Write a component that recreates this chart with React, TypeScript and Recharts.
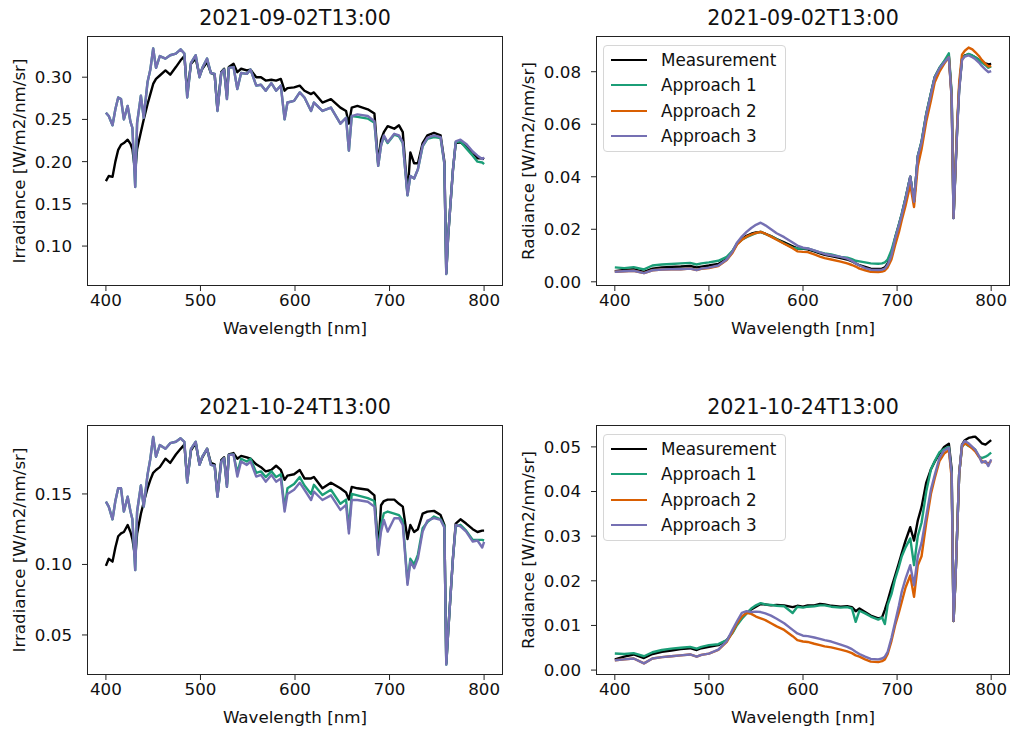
import { Legend, Line, LineChart, XAxis, YAxis } from "recharts";

const FONT = '"DejaVu Sans", sans-serif';
const X_TICKS = [400, 500, 600, 700, 800];

// irradiance panels (left column)
const IRR_WL = [
  400, 403, 407, 410, 413, 416, 419, 423, 426, 428,
  431, 433, 437, 440, 444, 447, 450, 453, 457, 463,
  468, 474, 479, 483, 486, 490, 495, 499, 502, 507,
  511, 515, 518, 522, 525, 528, 530, 535, 539, 543,
  549, 553, 559, 564, 569, 575, 580, 585, 589, 592,
  599, 605, 610, 617, 620, 629, 638, 648, 654, 657,
  660, 666, 677, 684, 688, 691, 694, 698, 705, 710,
  714, 719, 722, 726, 730, 735, 740, 747, 754, 758,
  760, 762, 767, 770, 775, 781, 788, 793, 798, 800,
];

const IRR1_M = [
  0.177, 0.183, 0.182, 0.2, 0.214, 0.22, 0.222, 0.226, 0.221, 0.215,
  0.188, 0.215, 0.235, 0.25, 0.268, 0.28, 0.292, 0.298, 0.302, 0.308,
  0.303, 0.312, 0.32, 0.325, 0.282, 0.316, 0.322, 0.302, 0.31, 0.318,
  0.305, 0.303, 0.262, 0.306, 0.31, 0.278, 0.312, 0.316, 0.306, 0.31,
  0.308, 0.309, 0.3, 0.3, 0.296, 0.297, 0.296, 0.298, 0.284, 0.287,
  0.288, 0.29, 0.284, 0.28, 0.282, 0.27, 0.274, 0.264, 0.26, 0.245,
  0.264, 0.266, 0.262, 0.257, 0.198, 0.226, 0.235, 0.242, 0.239, 0.243,
  0.235, 0.162, 0.211, 0.198, 0.198, 0.222, 0.231, 0.234, 0.231, 0.2,
  0.068, 0.112, 0.19, 0.222, 0.223, 0.218, 0.211, 0.204, 0.204, 0.203,
];
const IRR1_A1 = [
  0.258, 0.254, 0.243, 0.262, 0.276, 0.274, 0.25, 0.266, 0.247, 0.24,
  0.17, 0.246, 0.278, 0.252, 0.294, 0.309, 0.334, 0.311, 0.325, 0.322,
  0.326, 0.328, 0.333, 0.328, 0.276, 0.317, 0.326, 0.3, 0.311, 0.322,
  0.305, 0.304, 0.26, 0.305, 0.309, 0.274, 0.311, 0.312, 0.286, 0.305,
  0.304, 0.309, 0.29, 0.291, 0.284, 0.293, 0.284, 0.29, 0.25, 0.27,
  0.272, 0.282, 0.276, 0.26, 0.27, 0.26, 0.264, 0.245, 0.252, 0.213,
  0.254, 0.253, 0.251, 0.246, 0.195, 0.219, 0.23, 0.222, 0.232, 0.23,
  0.222, 0.16, 0.183, 0.18, 0.191, 0.218, 0.227, 0.229, 0.228, 0.197,
  0.067, 0.112, 0.189, 0.223, 0.224, 0.216, 0.207, 0.2, 0.199, 0.197,
];
const IRR1_A3 = [
  0.258, 0.254, 0.243, 0.262, 0.276, 0.274, 0.25, 0.266, 0.247, 0.24,
  0.17, 0.246, 0.278, 0.252, 0.294, 0.309, 0.334, 0.311, 0.325, 0.322,
  0.326, 0.328, 0.333, 0.328, 0.276, 0.317, 0.326, 0.3, 0.311, 0.322,
  0.305, 0.304, 0.26, 0.305, 0.309, 0.274, 0.311, 0.312, 0.286, 0.305,
  0.304, 0.309, 0.29, 0.291, 0.284, 0.293, 0.284, 0.29, 0.25, 0.27,
  0.272, 0.282, 0.276, 0.26, 0.27, 0.26, 0.264, 0.245, 0.252, 0.213,
  0.254, 0.256, 0.254, 0.248, 0.195, 0.219, 0.231, 0.223, 0.233, 0.231,
  0.223, 0.16, 0.183, 0.18, 0.191, 0.219, 0.228, 0.231, 0.229, 0.198,
  0.067, 0.112, 0.189, 0.224, 0.226, 0.221, 0.212, 0.207, 0.203, 0.205,
];

const IRR2_M = [
  0.099, 0.104, 0.102, 0.112, 0.12, 0.122, 0.123, 0.128, 0.123, 0.118,
  0.105, 0.122, 0.136, 0.144, 0.154, 0.16, 0.165, 0.167, 0.169, 0.175,
  0.172, 0.178, 0.182, 0.185, 0.16, 0.181, 0.186, 0.171, 0.176, 0.182,
  0.172, 0.171, 0.149, 0.174, 0.176, 0.157, 0.178, 0.179, 0.175, 0.177,
  0.176, 0.175, 0.171, 0.169, 0.166, 0.167, 0.17, 0.167, 0.16, 0.163,
  0.164, 0.167, 0.161, 0.161, 0.162, 0.154, 0.158, 0.154, 0.151, 0.146,
  0.155, 0.154, 0.153, 0.149, 0.11, 0.142, 0.145, 0.146, 0.146, 0.143,
  0.141, 0.118, 0.128, 0.123, 0.125, 0.136, 0.1375, 0.138, 0.135, 0.128,
  0.03, 0.052, 0.104, 0.129, 0.132, 0.129, 0.125, 0.123, 0.124, 0.124,
];
const IRR2_A1 = [
  0.1445, 0.141, 0.132, 0.145, 0.154, 0.154, 0.1375, 0.148, 0.1375, 0.132,
  0.096, 0.1375, 0.156, 0.141, 0.1635, 0.175, 0.1905, 0.1764, 0.1847, 0.182,
  0.186, 0.187, 0.1895, 0.187, 0.158, 0.182, 0.187, 0.1706, 0.1764, 0.182,
  0.1706, 0.17, 0.148, 0.173, 0.1753, 0.155, 0.1777, 0.178, 0.165, 0.175,
  0.173, 0.175, 0.165, 0.166, 0.162, 0.166, 0.162, 0.164, 0.14, 0.154,
  0.157, 0.162, 0.156, 0.15, 0.1565, 0.1493, 0.153, 0.143, 0.146, 0.125,
  0.15, 0.149, 0.147, 0.145, 0.108, 0.128, 0.1363, 0.1375, 0.136, 0.135,
  0.131, 0.087, 0.104, 0.1, 0.107, 0.1257, 0.13, 0.134, 0.132, 0.127,
  0.029, 0.052, 0.104, 0.127, 0.1281, 0.124, 0.1174, 0.1174, 0.1174, 0.117,
];
const IRR2_A3 = [
  0.1445, 0.141, 0.132, 0.145, 0.154, 0.154, 0.1375, 0.148, 0.1375, 0.132,
  0.096, 0.1375, 0.156, 0.141, 0.1635, 0.175, 0.1905, 0.1764, 0.1847, 0.182,
  0.186, 0.187, 0.1895, 0.187, 0.158, 0.182, 0.187, 0.1706, 0.1764, 0.182,
  0.1706, 0.17, 0.148, 0.173, 0.1753, 0.155, 0.1777, 0.178, 0.1623, 0.173,
  0.1706, 0.173, 0.1623, 0.1635, 0.1587, 0.1635, 0.1587, 0.161, 0.1375, 0.15,
  0.153, 0.158, 0.153, 0.1457, 0.1516, 0.1457, 0.149, 0.1387, 0.1422, 0.122,
  0.1457, 0.1457, 0.1445, 0.141, 0.1068, 0.1233, 0.1316, 0.1233, 0.1328, 0.1328,
  0.128, 0.0855, 0.102, 0.0973, 0.1044, 0.1233, 0.131, 0.1328, 0.1316, 0.126,
  0.029, 0.052, 0.104, 0.128, 0.127, 0.1233, 0.1162, 0.117, 0.112, 0.116,
];

// radiance panels (right column)
const RAD_WL = [
  400, 410, 420, 431, 440, 450, 460, 470, 480, 487,
  492, 500, 510, 519, 525, 530, 535, 540, 545, 550,
  555, 560, 566, 572, 580, 589, 594, 600, 605, 612,
  618, 623, 630, 640, 647, 652, 656, 660, 666, 672,
  680, 684, 687, 690, 694, 698, 702, 705, 709, 714,
  718, 722, 726, 731, 736, 740, 745, 750, 755, 758,
  760, 762, 764, 766, 769, 772, 776, 780, 783, 787,
  790, 794, 797, 800,
];

const RAD1_M = [
  0.004, 0.0045, 0.0048, 0.0038, 0.005, 0.0055, 0.0057, 0.0058, 0.006, 0.0055,
  0.0058, 0.0062, 0.0068, 0.0088, 0.0115, 0.0145, 0.0162, 0.0175, 0.0183, 0.0188,
  0.019, 0.0183, 0.0174, 0.0163, 0.015, 0.0135, 0.0127, 0.0126, 0.0124, 0.0116,
  0.0108, 0.0103, 0.0098, 0.009, 0.0085, 0.0078, 0.007, 0.0063, 0.0057, 0.005,
  0.0049, 0.005, 0.0055, 0.007, 0.0105, 0.0168, 0.0218, 0.0258, 0.0318, 0.04,
  0.0305, 0.0478, 0.0532, 0.0638, 0.0718, 0.078, 0.0813, 0.0838, 0.086, 0.071,
  0.0243, 0.0425, 0.0595, 0.0735, 0.0848, 0.0862, 0.0866, 0.086, 0.0855, 0.0845,
  0.0838, 0.0832, 0.0828, 0.083,
];
const RAD1_A1 = [
  0.0055, 0.0052, 0.0056, 0.0047, 0.0062, 0.0066, 0.0068, 0.007, 0.0072, 0.0066,
  0.007, 0.0074, 0.008, 0.0095, 0.0118, 0.0146, 0.016, 0.017, 0.0178, 0.0185,
  0.019, 0.0182, 0.0173, 0.0162, 0.0146, 0.013, 0.0127, 0.0128, 0.0127, 0.0119,
  0.0112, 0.0108, 0.0104, 0.0095, 0.0092, 0.0086, 0.008, 0.0078, 0.0074, 0.007,
  0.0069, 0.007, 0.0074, 0.0085, 0.012, 0.017, 0.022, 0.026, 0.032, 0.04,
  0.0305, 0.048, 0.0535, 0.064, 0.072, 0.078, 0.0815, 0.084, 0.087, 0.072,
  0.0244, 0.0428, 0.06, 0.074, 0.085, 0.086, 0.0868, 0.0862, 0.0855, 0.0845,
  0.0835, 0.0825, 0.0815, 0.082,
];
const RAD1_A2 = [
  0.0038, 0.004, 0.0042, 0.0033, 0.0044, 0.0047, 0.0048, 0.0048, 0.005, 0.0045,
  0.0049, 0.0052, 0.006, 0.0083, 0.011, 0.0142, 0.016, 0.0172, 0.018, 0.0186,
  0.019, 0.0183, 0.0172, 0.016, 0.0145, 0.0128, 0.0116, 0.0114, 0.0113, 0.0104,
  0.0096, 0.009, 0.0085, 0.0077, 0.007, 0.0064, 0.0058, 0.005, 0.0044, 0.0038,
  0.0037, 0.0039, 0.0043, 0.0055, 0.0085, 0.014, 0.019, 0.0235, 0.029, 0.037,
  0.0285, 0.044, 0.0505, 0.061, 0.069, 0.076, 0.08, 0.083, 0.0855, 0.07,
  0.0245, 0.043, 0.061, 0.076, 0.0865, 0.088, 0.0892, 0.0885, 0.0875, 0.086,
  0.0845, 0.083, 0.082, 0.0822,
];
const RAD1_A3 = [
  0.0038, 0.004, 0.0042, 0.0033, 0.0044, 0.0047, 0.0048, 0.0048, 0.005, 0.0045,
  0.005, 0.0054, 0.0062, 0.0085, 0.0115, 0.015, 0.0172, 0.019, 0.0205, 0.0217,
  0.0225, 0.0215, 0.02, 0.0185, 0.017, 0.015, 0.0138, 0.013, 0.0127, 0.012,
  0.0112, 0.0106, 0.0101, 0.0095, 0.0088, 0.008, 0.007, 0.0062, 0.0052, 0.0046,
  0.0045, 0.0046, 0.005, 0.0065, 0.01, 0.0165, 0.0215, 0.0255, 0.0315, 0.04,
  0.0305, 0.0478, 0.053, 0.0635, 0.0715, 0.0778, 0.0812, 0.0835, 0.0855, 0.07,
  0.0242, 0.042, 0.059, 0.073, 0.0845, 0.0858, 0.0862, 0.0855, 0.0848, 0.0835,
  0.0822, 0.0808, 0.0798, 0.0802,
];

const RAD2_M = [
  0.0024, 0.003, 0.0035, 0.0027, 0.0036, 0.0041, 0.0044, 0.0047, 0.0049, 0.0045,
  0.0049, 0.0052, 0.0056, 0.0067, 0.0085, 0.0105, 0.0117, 0.0127, 0.0136, 0.0142,
  0.0148, 0.0147, 0.0145, 0.0146, 0.0145, 0.0141, 0.0144, 0.0142, 0.0145, 0.0145,
  0.0148, 0.0147, 0.0144, 0.0142, 0.0143, 0.0141, 0.0132, 0.0138, 0.013, 0.0122,
  0.0116, 0.0118, 0.0135, 0.0155, 0.0185, 0.0212, 0.024, 0.0262, 0.029, 0.032,
  0.029, 0.0335, 0.0365, 0.042, 0.045, 0.0467, 0.0485, 0.05, 0.0507, 0.045,
  0.011, 0.02, 0.032, 0.044, 0.0505, 0.0515, 0.052, 0.0522, 0.0523, 0.0515,
  0.0508, 0.0505, 0.051, 0.0515,
];
const RAD2_A1 = [
  0.0037, 0.0036, 0.0038, 0.0031, 0.004, 0.0045, 0.0048, 0.005, 0.0052, 0.0048,
  0.0052, 0.0056, 0.0058, 0.0067, 0.0083, 0.0101, 0.0115, 0.0127, 0.0138, 0.0145,
  0.015, 0.0147, 0.0146, 0.0144, 0.0143, 0.0128, 0.0142, 0.014, 0.0142, 0.0143,
  0.0145, 0.0145, 0.0142, 0.014, 0.0141, 0.0138, 0.0108, 0.0133, 0.0127, 0.012,
  0.0113, 0.0118, 0.0103, 0.0146, 0.017, 0.0205, 0.0232, 0.0255, 0.0275, 0.0295,
  0.0235, 0.03, 0.033, 0.04, 0.045, 0.0468, 0.0488, 0.0495, 0.05, 0.044,
  0.011, 0.02, 0.032, 0.044, 0.05, 0.0508, 0.0502, 0.0498, 0.0494, 0.0478,
  0.0475, 0.0478, 0.0482, 0.0487,
];
const RAD2_A2 = [
  0.0022, 0.0024, 0.0026, 0.0015, 0.0026, 0.0029, 0.0031, 0.0033, 0.0035, 0.003,
  0.0034, 0.0037, 0.0045, 0.0063, 0.0085, 0.0105, 0.012, 0.0128, 0.0126, 0.012,
  0.0116, 0.0112, 0.0105, 0.0098, 0.009, 0.0076, 0.0067, 0.0064, 0.0063, 0.0059,
  0.0056, 0.0053, 0.0051, 0.0046, 0.0042, 0.0038, 0.0033, 0.003, 0.0024, 0.0019,
  0.0018, 0.002, 0.0024, 0.0036, 0.0065, 0.0101, 0.013, 0.0153, 0.0185, 0.0212,
  0.0164, 0.0235, 0.0255, 0.033, 0.0395, 0.043, 0.0468, 0.0485, 0.0493, 0.043,
  0.011, 0.02, 0.032, 0.044, 0.05, 0.0508, 0.0503, 0.0496, 0.049, 0.0478,
  0.0468, 0.0465, 0.0463, 0.0468,
];
const RAD2_A3 = [
  0.0022, 0.0024, 0.0026, 0.0015, 0.0026, 0.0029, 0.0031, 0.0033, 0.0035, 0.003,
  0.0034, 0.0037, 0.0046, 0.0065, 0.009, 0.011, 0.0128, 0.0132, 0.013, 0.0131,
  0.013, 0.0127, 0.0122, 0.0115, 0.0105, 0.009, 0.0082, 0.0077, 0.0076, 0.0073,
  0.007, 0.0067, 0.0064, 0.0057, 0.0052, 0.0047, 0.0041, 0.0036, 0.003, 0.0025,
  0.0024, 0.0026, 0.003, 0.0041, 0.0072, 0.0108, 0.0145, 0.0176, 0.0205, 0.0235,
  0.019, 0.0255, 0.0285, 0.0345, 0.0405, 0.0437, 0.0475, 0.0492, 0.0498, 0.044,
  0.011, 0.02, 0.032, 0.044, 0.0505, 0.0513, 0.0508, 0.05, 0.0494, 0.048,
  0.0465, 0.0468, 0.0457, 0.0472,
];

const SERIES = [
  { key: "m", name: "Measurement", color: "#000000" },
  { key: "a1", name: "Approach 1", color: "#1b9e77" },
  { key: "a2", name: "Approach 2", color: "#d95f02" },
  { key: "a3", name: "Approach 3", color: "#7570b3" },
];

type Row = { wl: number; m: number; a1: number; a2?: number; a3: number };

function toRows(wl: number[], m: number[], a1: number[], a2: number[] | null, a3: number[]): Row[] {
  return wl.map((w, i) => ({ wl: w, m: m[i], a1: a1[i], a2: a2 ? a2[i] : undefined, a3: a3[i] }));
}

const renderLegend = (props: any) => {
  const order = SERIES.map((s) => s.name);
  const items = [...(props.payload || [])].sort(
    (a: any, b: any) => order.indexOf(a.value) - order.indexOf(b.value)
  );
  return (
    <div
      style={{
        boxSizing: "border-box",
        width: 183,
        height: 107,
        border: "1px solid #d6d6d6",
        borderRadius: 4,
        background: "rgba(255,255,255,0.85)",
        position: "relative",
        fontFamily: FONT,
      }}
    >
      {items.map((p: any, i: number) => (
        <div
          key={p.value}
          style={{ position: "absolute", left: 7, top: 14 + i * 25.3 - 11, height: 22, display: "flex", alignItems: "center" }}
        >
          <span style={{ display: "inline-block", width: 36, borderTop: `2.4px solid ${p.color}` }} />
          <span style={{ marginLeft: 14, fontSize: 16.8, color: "#111", whiteSpace: "nowrap" }}>{p.value}</span>
        </div>
      ))}
    </div>
  );
};

function Panel({
  pl, pt, pw, ph, title, yLabel, yDomain, yTicks, rows, series, legend,
}: {
  pl: number; pt: number; pw: number; ph: number; title: string; yLabel: string;
  yDomain: [number, number]; yTicks: number[]; rows: Row[]; series: typeof SERIES; legend?: boolean;
}) {
  const W = pw + 87 + 2;
  const H = ph + 36 + 30;
  const tickStyle = { fill: "#111", fontSize: 16.7, fontFamily: FONT };
  return (
    <>
      <div style={{ position: "absolute", left: pl, top: pt - 30, width: pw, textAlign: "center", fontSize: 20.6, lineHeight: "24px", color: "#111" }}>
        {title}
      </div>
      <div style={{ position: "absolute", left: pl - 87, top: pt - 36 }}>
        <LineChart width={W} height={H} data={rows} margin={{ top: 36, right: 2, bottom: 0, left: 0 }}>
          <XAxis
            dataKey="wl" type="number" domain={[380, 820]} ticks={X_TICKS} allowDataOverflow
            height={30} tickSize={5} tickMargin={3} axisLine={false} interval={0}
            tick={tickStyle} tickLine={{ stroke: "#222" }}
          />
          <YAxis
            type="number" domain={yDomain} ticks={yTicks} allowDataOverflow
            width={87} tickSize={5} tickMargin={10} axisLine={false} interval={0}
            tick={tickStyle} tickLine={{ stroke: "#222" }} tickFormatter={(v: number) => v.toFixed(2)}
          />
          {legend && (
            <Legend
              layout="vertical" align="center" verticalAlign="middle"
              wrapperStyle={{ left: 94, top: 45, width: 183, height: 107 }}
              content={renderLegend}
            />
          )}
          {series.map((s) => (
            <Line
              key={s.key} dataKey={s.key} name={s.name} stroke={s.color} strokeWidth={2.4}
              type="linear" dot={false} activeDot={false} isAnimationActive={false} strokeLinejoin="round"
            />
          ))}
        </LineChart>
      </div>
      <div style={{ position: "absolute", left: pl, top: pt, width: pw, height: ph, border: "1px solid #222", boxSizing: "border-box", pointerEvents: "none" }} />
      <div style={{ position: "absolute", left: pl, top: pt + ph + 32, width: pw, textAlign: "center", fontSize: 16.7, lineHeight: "20px", color: "#111" }}>
        Wavelength [nm]
      </div>
      <div
        style={{
          position: "absolute", left: pl - 68, top: pt + ph / 2, fontSize: 16.7, lineHeight: "20px", color: "#111",
          whiteSpace: "nowrap", transform: "translate(-50%, -50%) rotate(-90deg)",
        }}
      >
        {yLabel}
      </div>
    </>
  );
}

const IRR_SERIES = SERIES.filter((s) => s.key !== "a2");

export default function App() {
  const p1 = toRows(IRR_WL, IRR1_M, IRR1_A1, null, IRR1_A3);
  const p2 = toRows(RAD_WL, RAD1_M, RAD1_A1, RAD1_A2, RAD1_A3);
  const p3 = toRows(IRR_WL, IRR2_M, IRR2_A1, null, IRR2_A3);
  const p4 = toRows(RAD_WL, RAD2_M, RAD2_A1, RAD2_A2, RAD2_A3);
  return (
    <div style={{ position: "absolute", left: 0, top: 0, width: 1011, height: 729, overflow: "hidden", background: "#fff", fontFamily: FONT }}>
      <Panel pl={87} pt={36} pw={416} ph={250} title="2021-09-02T13:00" yLabel="Irradiance [W/m2/nm/sr]"
        yDomain={[0.0527, 0.3488]} yTicks={[0.1, 0.15, 0.2, 0.25, 0.3]} rows={p1} series={IRR_SERIES} />
      <Panel pl={596} pt={36} pw={414} ph={250} title="2021-09-02T13:00" yLabel="Radiance [W/m2/nm/sr]"
        yDomain={[-0.0016, 0.0936]} yTicks={[0, 0.02, 0.04, 0.06, 0.08]} rows={p2} series={SERIES} legend />
      <Panel pl={87} pt={425} pw={416} ph={250} title="2021-10-24T13:00" yLabel="Irradiance [W/m2/nm/sr]"
        yDomain={[0.0216, 0.1989]} yTicks={[0.05, 0.1, 0.15]} rows={p3} series={IRR_SERIES} />
      <Panel pl={596} pt={425} pw={414} ph={250} title="2021-10-24T13:00" yLabel="Radiance [W/m2/nm/sr]"
        yDomain={[-0.0011, 0.0549]} yTicks={[0, 0.01, 0.02, 0.03, 0.04, 0.05]} rows={p4} series={SERIES} legend />
    </div>
  );
}
